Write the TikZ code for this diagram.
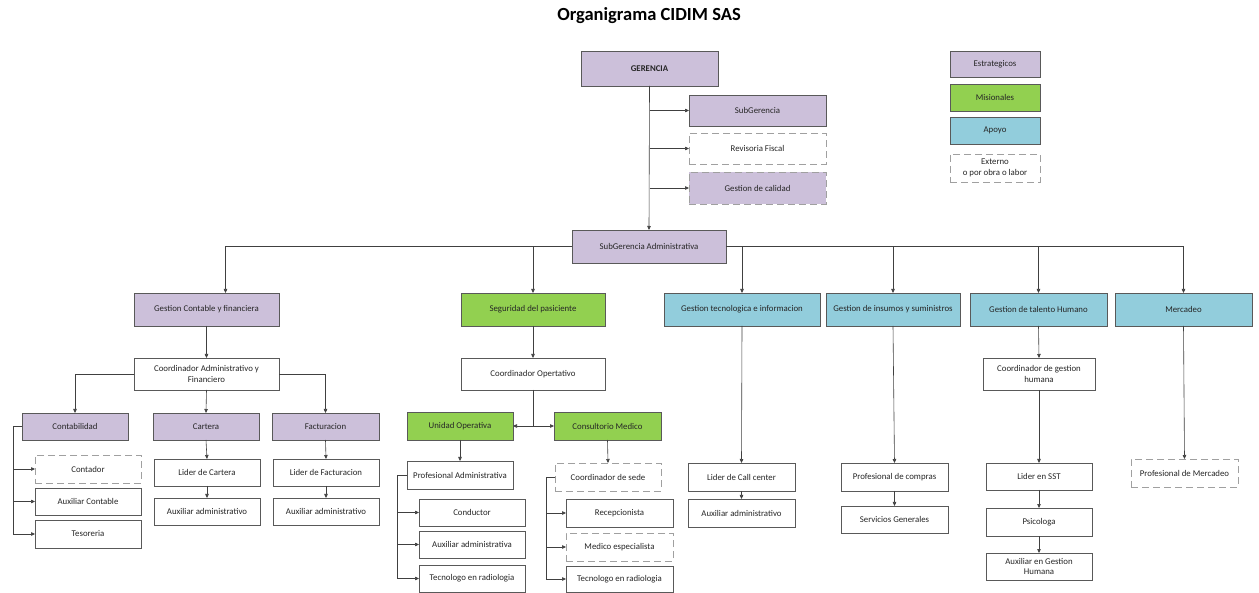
\documentclass[tikz,border=0pt]{standalone}
\usepackage{fontspec}
\setmainfont{Carlito}
\usetikzlibrary{arrows.meta}
\definecolor{cpur}{HTML}{CCC0DA}
\definecolor{cgrn}{HTML}{92D050}
\definecolor{cblu}{HTML}{92CDDC}
\definecolor{cbrd}{HTML}{595959}
\definecolor{cdsh}{HTML}{A0A0A0}
\definecolor{ctxt}{HTML}{262626}
\definecolor{cline}{HTML}{404040}
\newcommand\bx[7]{\node[#6, minimum width={(#4-#2)*1pt}, minimum height={(#5-#3)*1pt}] (#1) at ({(#2+#4)/2},{-(#3+#5)/2}) {#7};}
\tikzset{
  box/.style={draw=cbrd, line width=0.7pt, inner sep=1pt, outer sep=0pt, align=center, font=\fontsize{8.8}{10.5}\selectfont, text=ctxt},
  pur/.style={box, fill=cpur},
  grn/.style={box, fill=cgrn},
  blu/.style={box, fill=cblu},
  wht/.style={box, fill=white},
  dsh/.style={box, draw=cdsh, dash pattern=on 7pt off 4pt, line width=0.9pt, fill=white},
  dpur/.style={dsh, fill=cpur},
  arr/.style={draw=cline, line width=0.6pt, -{Triangle[length=4pt,width=3.5pt]}},
}
\begin{document}
\begin{tikzpicture}[x=1pt,y=1pt]
\useasboundingbox[fill=white] (0,0) rectangle (1259,-593);
\node[font=\fontsize{18.5}{20}\selectfont\bfseries, text=black] (title) at (649,-16) {Organigrama CIDIM SAS};
% top
\bx{ger}{581}{51}{718}{86}{pur}{\textbf{GERENCIA}}
\bx{subg}{689}{95}{826}{126}{pur}{SubGerencia}
\bx{rev}{689}{133}{826}{164}{dsh}{Revisoria Fiscal}
\bx{cal}{689}{172}{826}{204}{dpur}{Gestion de calidad}
\bx{sga}{572}{230}{726}{263}{pur}{SubGerencia Administrativa}
% legend
\bx{lest}{950}{51}{1040}{77}{pur}{Estrategicos}
\bx{lmis}{950}{84}{1040}{111}{grn}{Misionales}
\bx{lapo}{950}{117}{1040}{144}{blu}{Apoyo}
\bx{lext}{950}{154}{1040}{182}{dsh}{Externo\\o por obra o labor}
% row 2
\bx{gc}{134}{293}{279}{326}{pur}{Gestion Contable y financiera}
\bx{seg}{461}{293}{605}{326}{grn}{Seguridad del pasiciente}
\bx{gt}{664}{293}{820}{326}{blu}{Gestion tecnologica e informacion}
\bx{gi}{826}{293}{960}{326}{blu}{Gestion de insumos y suministros}
\bx{gh}{970}{293}{1107}{326}{blu}{Gestion de talento Humano}
\bx{mer}{1115}{293}{1252}{326}{blu}{Mercadeo}
% left branch
\bx{caf}{134}{358}{279}{390}{wht}{Coordinador Administrativo y\\Financiero}
\bx{cont}{22}{413}{128}{440}{pur}{Contabilidad}
\bx{cart}{153}{413}{259}{440}{pur}{Cartera}
\bx{fact}{272}{413}{379}{440}{pur}{Facturacion}
\bx{contador}{35}{455}{141}{483}{dsh}{Contador}
\bx{auxc}{35}{488}{141}{515}{wht}{Auxiliar Contable}
\bx{teso}{35}{520}{141}{548}{wht}{Tesoreria}
\bx{lcar}{154}{459}{260}{486}{wht}{Lider de Cartera}
\bx{acar}{154}{498}{260}{525}{wht}{Auxiliar administrativo}
\bx{lfac}{273}{459}{379}{486}{wht}{Lider de Facturacion}
\bx{afac}{273}{498}{379}{525}{wht}{Auxiliar administrativo}
% middle branch
\bx{cop}{461}{358}{605}{390}{wht}{Coordinador Opertativo}
\bx{uo}{407}{412}{513}{440}{grn}{Unidad Operativa}
\bx{cm}{554}{412}{661}{440}{grn}{Consultorio Medico}
\bx{pa}{407}{461}{513}{489}{wht}{Profesional Administrativa}
\bx{cond}{419}{499}{525}{526}{wht}{Conductor}
\bx{auxa}{419}{531}{525}{558}{wht}{Auxiliar administrativa}
\bx{tec1}{419}{565}{525}{592}{wht}{Tecnologo en radiologia}
\bx{cs}{555}{463}{661}{491}{dsh}{Coordinador de sede}
\bx{rec}{566}{499}{673}{527}{wht}{Recepcionista}
\bx{med}{566}{533}{673}{561}{dsh}{Medico especialista}
\bx{tec2}{566}{566}{673}{592}{wht}{Tecnologo en radiologia}
% apoyo branches
\bx{call}{688}{463}{795}{491}{wht}{Lider de Call center}
\bx{atec}{688}{499}{795}{527}{wht}{Auxiliar administrativo}
\bx{comp}{841}{463}{948}{491}{wht}{Profesional de compras}
\bx{serv}{841}{506}{948}{533}{wht}{Servicios Generales}
\bx{cgh}{983}{358}{1095}{390}{wht}{Coordinador de gestion\\humana}
\bx{sst}{986}{463}{1092}{490}{wht}{Lider en SST}
\bx{psi}{986}{508}{1092}{536}{wht}{Psicologa}
\bx{agh}{986}{553}{1092}{580}{wht}{Auxiliar en Gestion\\Humana}
\bx{pmer}{1131}{459}{1238}{487}{dsh}{Profesional de Mercadeo}
% connectors top
\draw[arr] (ger.south) -- (sga.north);
\draw[arr] (ger.south |- subg.west) -- (subg.west);
\draw[arr] (ger.south |- rev.west) -- (rev.west);
\draw[arr] (ger.south |- cal.west) -- (cal.west);
\draw[arr] (sga.west) -| ([xshift=19pt]gc.north);
\draw[arr] (sga.west) -| (seg.north);
\draw[arr] (sga.east) -| (gt.north);
\draw[arr] (sga.east) -| (gi.north);
\draw[arr] (sga.east) -| (gh.north);
\draw[arr] (sga.east) -| (mer.north);
% left
\draw[arr] (gc.south) -- (caf.north);
\draw[arr] (caf.west) -| (cont.north);
\draw[arr] (caf.south) -- (cart.north);
\draw[arr] (caf.east) -| (fact.north);
\draw[arr] (cont.west) -- ++(-9,0) |- (contador.west);
\draw[arr] (cont.west) -- ++(-9,0) |- (auxc.west);
\draw[arr] (cont.west) -- ++(-9,0) |- (teso.west);
\draw[arr] (cart.south) -- (lcar.north);
\draw[arr] (lcar.south) -- (acar.north);
\draw[arr] (fact.south) -- (lfac.north);
\draw[arr] (lfac.south) -- (afac.north);
% middle
\draw[arr] (seg.south) -- (cop.north);
\draw[arr] (cop.south) |- (uo.east);
\draw[arr] (cop.south) |- (cm.west);
\draw[arr] (uo.south) -- (pa.north);
\draw[arr] (pa.west) -- ++(-10,0) |- (cond.west);
\draw[arr] (pa.west) -- ++(-10,0) |- (auxa.west);
\draw[arr] (pa.west) -- ++(-10,0) |- (tec1.west);
\draw[arr] (cm.south) -- (cs.north);
\draw[arr] (cs.west) -- ++(-9,0) |- (rec.west);
\draw[arr] (cs.west) -- ++(-9,0) |- (med.west);
\draw[arr] (cs.west) -- ++(-9,0) |- (tec2.west);
% apoyo
\draw[arr] (gt.south) -- (call.north);
\draw[arr] (call.south) -- (atec.north);
\draw[arr] (gi.south) -- (comp.north);
\draw[arr] (comp.south) -- (serv.north);
\draw[arr] (gh.south) -- (cgh.north);
\draw[arr] (cgh.south) -- (sst.north);
\draw[arr] (sst.south) -- (psi.north);
\draw[arr] (psi.south) -- (agh.north);
\draw[arr] (mer.south) -- (pmer.north);
\end{tikzpicture}
\end{document}
